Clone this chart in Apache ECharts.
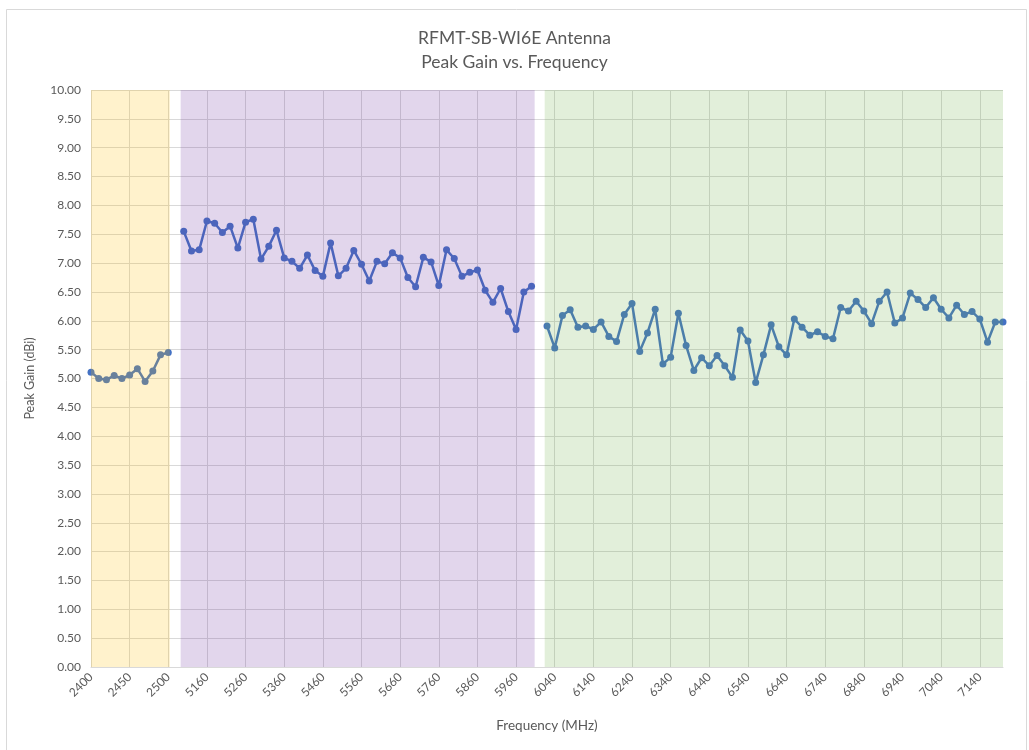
<!DOCTYPE html>
<html>
<head>
<meta charset="utf-8">
<script src="https://cdn.jsdelivr.net/npm/echarts@6/dist/echarts.min.js"></script>
<style>
html,body{margin:0;padding:0;background:#fff;}
#chart{width:1029px;height:750px;}
</style>
</head>
<body>
<div id="chart"></div>
<script>
// ---- data ----
const freqs24 = [2400,2410,2420,2430,2440,2450,2460,2470,2480,2490,2500];
const gain24  = [5.11,5.00,4.98,5.05,5.00,5.06,5.17,4.95,5.13,5.41,5.45];

const freqs5 = [5100,5120,5140,5160,5180,5200,5220,5240,5260,5280,5300,5320,5340,5360,5380,5400,
  5420,5440,5460,5480,5500,5520,5540,5560,5580,5600,5620,5640,5660,5680,5700,5720,5740,5760,5780,
  5800,5820,5840,5860,5880,5900,5920,5940,5960,5980,6000];
const gain5 = [7.55,7.21,7.23,7.73,7.69,7.53,7.64,7.26,7.71,7.76,
  7.07,7.29,7.57,7.09,7.03,6.91,7.14,6.87,6.77,7.35,
  6.78,6.91,7.22,6.98,6.69,7.03,6.99,7.18,7.09,6.75,
  6.59,7.10,7.02,6.61,7.23,7.08,6.77,6.84,6.88,6.53,
  6.32,6.56,6.16,5.85,6.50,6.60];

const freqs6 = [6020,6040,6060,6080,6100,6120,6140,6160,6180,6200,6220,6240,6260,6280,6300,6320,
  6340,6360,6380,6400,6420,6440,6460,6480,6500,6520,6540,6560,6580,6600,6620,6640,6660,6680,6700,
  6720,6740,6760,6780,6800,6820,6840,6860,6880,6900,6920,6940,6960,6980,7000,7020,7040,7060,7080,
  7100,7120,7140,7160,7180,7200];
const gain6 = [5.91,5.53,6.09,6.19,5.89,5.91,5.85,5.98,5.73,5.64,
  6.11,6.30,5.47,5.79,6.20,5.25,5.37,6.13,5.57,5.14,
  5.36,5.22,5.40,5.22,5.02,5.84,5.65,4.93,5.41,5.93,
  5.55,5.41,6.03,5.89,5.75,5.81,5.73,5.69,6.23,6.17,
  6.34,6.17,5.95,6.34,6.50,5.96,6.05,6.48,6.37,6.23,
  6.40,6.20,6.05,6.27,6.11,6.16,6.03,5.63,5.98,5.98];

const bandColors = ['rgba(255,192,0,0.2)','rgba(112,48,160,0.2)','rgba(112,173,71,0.2)'];

// ---- build ----
const categories = [...freqs24.map(String), '', ...freqs5.map(String), '', ...freqs6.map(String)];
const values = [...gain24, null, ...gain5, null, ...gain6];
const last = categories.length - 1;

const s5 = freqs24.length + 1;
const e5 = s5 + freqs5.length - 1;
const s6 = e5 + 2;
const bands = [
  [0, freqs24.length - 1 + 0.2, 0],
  [s5 - 0.4, e5 + 0.4, 1],
  [s6 - 0.3, last, 2]
];

const txt = '#595959';
const font = 'Lato, "Open Sans", sans-serif';

const chart = echarts.init(document.getElementById('chart'), null, {renderer:'canvas'});
chart.setOption({
  animation: false,
  backgroundColor: '#fff',
  textStyle: {fontFamily: font},
  title: {
    text: 'RFMT-SB-WI6E Antenna\nPeak Gain vs. Frequency',
    left: 'center', top: 26, padding: 0,
    textStyle: {fontSize: 17.5, fontWeight: 'normal', color: txt, lineHeight: 24, fontFamily: font}
  },
  graphic: [{
    type: 'rect', left: 4, top: 7, z: -10,
    shape: {width: 1020, height: 742},
    style: {fill: 'none', stroke: '#D9D9D9', lineWidth: 1}
  }],
  grid: {left: 91, right: 26, top: 90, bottom: 83, containLabel: false},
  xAxis: [{
    type: 'category',
    data: categories,
    boundaryGap: false,
    name: 'Frequency (MHz)',
    nameLocation: 'middle',
    nameGap: 52,
    nameTextStyle: {fontSize: 13.5, color: txt, fontFamily: font},
    axisLine: {show: true, lineStyle: {color: '#D9D9D9', width: 1}},
    axisTick: {show: false},
    axisLabel: {interval: 4, rotate: 45, fontSize: 12, color: txt, margin: 8, fontFamily: font},
    splitLine: {show: true, interval: function(i){ return i % 5 === 0; }, lineStyle: {color: '#D9D9D9', width: 1}}
  }, {
    type: 'value', min: 0, max: last, show: false
  }],
  yAxis: {
    type: 'value', min: 0, max: 10, interval: 0.5,
    name: 'Peak Gain (dBi)',
    nameLocation: 'middle',
    nameGap: 55,
    nameTextStyle: {fontSize: 12.5, color: txt, fontFamily: font},
    axisLine: {show: false},
    axisTick: {show: false},
    axisLabel: {formatter: v => v.toFixed(2), fontSize: 12, color: txt, margin: 10, fontFamily: font},
    splitLine: {show: true, lineStyle: {color: '#D9D9D9', width: 1}}
  },
  series: [{
    type: 'line',
    data: values,
    connectNulls: false,
    z: 2,
    symbol: 'circle',
    symbolSize: 7,
    showSymbol: true,
    showAllSymbol: true,
    lineStyle: {color: '#4472C4', width: 2.5},
    itemStyle: {color: '#4472C4'}
  }, {
    type: 'custom',
    xAxisIndex: 1,
    z: 5,
    silent: true,
    data: bands,
    renderItem: function(params, api){
      const p0 = api.coord([api.value(0), 10]);
      const p1 = api.coord([api.value(1), 0]);
      return {
        type: 'rect',
        shape: {x: p0[0], y: p0[1], width: p1[0] - p0[0], height: p1[1] - p0[1]},
        style: {fill: bandColors[api.value(2)]}
      };
    }
  }]
});
</script>
</body>
</html>
